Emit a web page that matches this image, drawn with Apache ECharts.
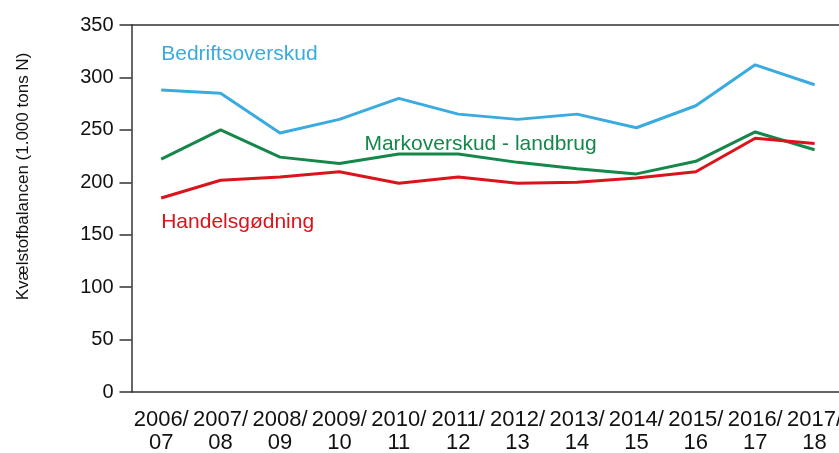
<!DOCTYPE html>
<html>
<head>
<meta charset="utf-8">
<script src="https://cdn.jsdelivr.net/npm/echarts@6/dist/echarts.min.js"></script>
<style>html,body{margin:0;padding:0;background:#fff;}#c{width:839px;height:453px;}</style>
</head>
<body>
<div id="c"></div>
<script>
const categories = ['2006/\n07','2007/\n08','2008/\n09','2009/\n10','2010/\n11','2011/\n12','2012/\n13','2013/\n14','2014/\n15','2015/\n16','2016/\n17','2017/\n18'];
const bedriftsoverskud = [288, 285, 247, 260, 280, 265, 260, 265, 252, 273, 312, 293];
const markoverskud = [222, 250, 224, 218, 227, 227, 219, 213, 208, 220, 248, 231];
const handelsgodning = [185, 202, 205, 210, 199, 205, 199, 200, 204, 210, 242, 237];
const yTicks = [0, 50, 100, 150, 200, 250, 300, 350];
const seriesNames = ['Bedriftsoverskud', 'Markoverskud - landbrug', 'Handelsgødning'];
const yAxisTitle = 'Kvælstofbalancen (1.000 tons N)';

const font = 'Arial, "Liberation Sans", sans-serif';
const axisColor = '#333333';
const colors = ['#3aabdf', '#15874a', '#d9141b'];

function labelPoint(coord, text, color, dx) {
  return {
    silent: true,
    data: [{ coord: coord, symbol: 'circle', symbolSize: 1,
      itemStyle: { color: 'rgba(0,0,0,0)' },
      label: { show: true, position: 'inside', offset: [dx, 0], formatter: text, color: color,
        fontSize: 21, fontFamily: font, align: 'left', verticalAlign: 'middle' } }]
  };
}

const chart = echarts.init(document.getElementById('c'), null, { renderer: 'canvas' });
chart.setOption({
  animation: false,
  backgroundColor: '#ffffff',
  grid: { left: 131.5, right: -5.3, top: 25, bottom: 61, containLabel: false, outerBoundsMode: 'none' },
  xAxis: [{
    type: 'category',
    data: categories,
    boundaryGap: true,
    axisLine: { lineStyle: { color: axisColor, width: 1.5 } },
    axisTick: { alignWithLabel: true, length: 11, lineStyle: { color: axisColor, width: 1.5 } },
    axisLabel: { color: '#111', fontSize: 22, fontFamily: font, margin: 16, lineHeight: 23, interval: 0 },
    splitLine: { show: false }
  }, {
    type: 'category',
    data: categories,
    position: 'top',
    axisLine: { show: true, lineStyle: { color: axisColor, width: 1.5 } },
    axisTick: { show: false },
    axisLabel: { show: false }
  }],
  yAxis: {
    type: 'value',
    min: 0, max: 350, interval: 50,
    name: yAxisTitle,
    nameLocation: 'middle',
    nameGap: 100,
    nameTextStyle: { color: '#111', fontSize: 17, fontFamily: font, padding: [0, 0, 0, 64] },
    axisLine: { show: true, lineStyle: { color: axisColor, width: 1.5 } },
    axisTick: { show: true, length: 12, lineStyle: { color: axisColor, width: 1.5 } },
    axisLabel: { color: '#111', fontSize: 20, fontFamily: font, margin: 18,
      formatter: function (v) { return yTicks.indexOf(v) >= 0 ? String(v) : ''; } },
    splitLine: { show: false }
  },
  series: [
    { name: seriesNames[0], type: 'line', data: bedriftsoverskud, symbol: 'none',
      lineStyle: { color: colors[0], width: 3 }, itemStyle: { color: colors[0] },
      markPoint: labelPoint([0, 322], seriesNames[0], colors[0], 0) },
    { name: seriesNames[1], type: 'line', data: markoverskud, symbol: 'none',
      lineStyle: { color: colors[1], width: 3 }, itemStyle: { color: colors[1] },
      markPoint: labelPoint([3, 236.5], seriesNames[1], colors[1], 25) },
    { name: seriesNames[2], type: 'line', data: handelsgodning, symbol: 'none',
      lineStyle: { color: colors[2], width: 3 }, itemStyle: { color: colors[2] },
      markPoint: labelPoint([0, 162], seriesNames[2], colors[2], 0) }
  ]
});
</script>
</body>
</html>
